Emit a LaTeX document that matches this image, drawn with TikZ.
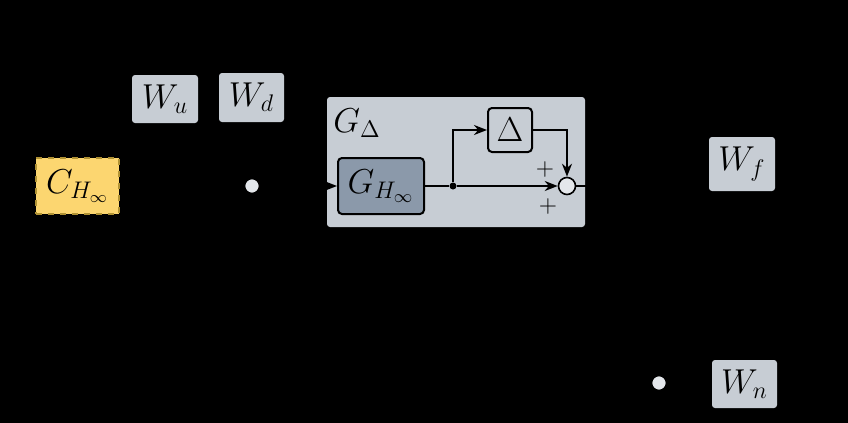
\documentclass[tikz,border=0pt]{standalone}
\usetikzlibrary{arrows.meta}
\definecolor{boxgray}{RGB}{199,205,212}
\definecolor{darkgray}{RGB}{139,153,170}
\definecolor{ctrlyellow}{RGB}{252,214,112}
\definecolor{ctrledge}{RGB}{176,146,52}
\definecolor{dotgray}{RGB}{228,231,235}
\tikzset{
  lbl/.style={font=\fontsize{17}{19}\selectfont},
  wbox/.style={rectangle, rounded corners=1.5pt, fill=boxgray, inner sep=0pt, lbl},
  gbox/.style={rectangle, rounded corners=2pt, fill=darkgray, draw=black, line width=1pt,
    inner sep=0pt, font=\fontsize{18.5}{20}\selectfont},
  dbox/.style={rectangle, rounded corners=2pt, fill=boxgray, draw=black, line width=1pt,
    inner sep=0pt, lbl},
  cbox/.style={rectangle, fill=ctrlyellow, draw=ctrledge, dashed, line width=0.7pt,
    inner sep=0pt, lbl},
  sumdot/.style={circle, fill=dotgray, draw=black, line width=0.8pt, inner sep=0pt},
  junc/.style={circle, fill=black, inner sep=0pt, minimum size=3.5pt},
  conn/.style={draw=black, line width=1pt, -{Stealth[length=6.5pt,width=5pt]}},
  plain/.style={draw=black, line width=1pt},
  pm/.style={font=\fontsize{12.5}{14}\selectfont, inner sep=0pt}
}
\begin{document}
\begin{tikzpicture}[x=0.5pt, y=-0.5pt]
  \fill[black] (0,0) rectangle (848,423);
  \useasboundingbox (0,0) rectangle (848,423);

  % outer uncertain plant
  \node[rectangle, rounded corners=1.5pt, fill=boxgray, minimum width=129pt, minimum height=65pt, inner sep=0pt] (GD) at (456,162) {};
  \node[lbl, inner sep=0pt] (GDlabel) at (357,123) {$G_{\Delta}$};

  % weights
  \node[wbox, minimum width=33pt, minimum height=24pt] (Wu) at (165,99) {$W_u$};
  \node[wbox, minimum width=32.5pt, minimum height=24.5pt] (Wd) at (251.5,97.5) {$W_d$};
  \node[wbox, minimum width=33pt, minimum height=27pt] (Wf) at (742,164) {$W_f$};
  \node[wbox, minimum width=32.5pt, minimum height=24pt] (Wn) at (744.5,384) {$W_n$};

  % controller
  \node[cbox, minimum width=41.5pt, minimum height=28pt] (C) at (77.5,186) {$C_{H_\infty}$};

  % summing dots outside
  \node[sumdot, minimum size=7.5pt] (s1) at (252,186) {};
  \node[sumdot, minimum size=7.5pt] (s2) at (659,383) {};

  % inner blocks
  \node[gbox, minimum width=43pt, minimum height=28pt] (G) at (381,186) {$G_{H_\infty}$};
  \node[dbox, minimum width=22pt, minimum height=22pt] (Dl) at (510,130) {$\Delta$};
  \node[junc] (j) at (453,186) {};
  \node[sumdot, minimum size=8.5pt] (sum) at (567,186) {};
  \coordinate (out) at (600,186);

  \node[pm] (p1) at (545,169) {$+$};
  \node[pm] (p2) at (548,207) {$+$};

  % connectors
  \draw[conn] (s1) -- (G.west);
  \draw[plain] (G.east) -- (j);
  \draw[conn] (j) -- (sum.west);
  \draw[conn] (j) |- (Dl.west);
  \draw[conn] (Dl.east) -| (sum.north);
  \draw[plain] (sum.east) -- (out);
\end{tikzpicture}
\end{document}
